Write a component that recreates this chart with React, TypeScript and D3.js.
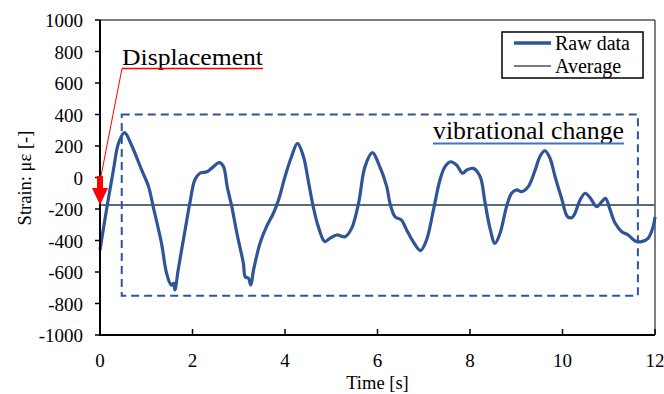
import React from "react";
import * as d3 from "d3";

const timeS = [0, 0.14, 0.29, 0.4, 0.53, 0.68, 0.9, 1.05, 1.15, 1.33, 1.44, 1.54, 1.59, 1.62, 1.69, 1.84, 1.95, 2.05, 2.16, 2.31, 2.41, 2.58, 2.67, 2.75, 2.85, 2.96, 3.1, 3.14, 3.21, 3.26, 3.32, 3.46, 3.6, 3.75, 3.86, 4.0, 4.14, 4.27, 4.4, 4.5, 4.61, 4.72, 4.86, 4.97, 5.12, 5.3, 5.44, 5.59, 5.73, 5.89, 6.02, 6.2, 6.27, 6.38, 6.52, 6.63, 6.77, 6.93, 7.06, 7.21, 7.35, 7.46, 7.58, 7.71, 7.84, 7.93, 8.07, 8.22, 8.32, 8.43, 8.54, 8.65, 8.79, 8.9, 9.01, 9.12, 9.26, 9.41, 9.51, 9.62, 9.73, 9.84, 9.98, 10.11, 10.2, 10.27, 10.38, 10.49, 10.59, 10.74, 10.85, 10.93, 11.03, 11.14, 11.28, 11.42, 11.57, 11.71, 11.85, 11.96, 12.0];
const strain = [-460, -206, 48, 217, 285, 206, 48, -58, -185, -418, -608, -683, -672, -714, -587, -333, -150, -16, 27, 37, 58, 94, 69, -58, -185, -354, -545, -630, -640, -683, -587, -418, -312, -227, -143, 5, 132, 217, 132, -16, -185, -312, -407, -386, -365, -376, -323, -164, 69, 158, 90, -58, -164, -249, -270, -333, -407, -464, -397, -206, -16, 69, 100, 79, 27, 48, 58, 5, -150, -320, -418, -354, -185, -100, -79, -90, -58, 48, 132, 170, 122, 5, -132, -249, -255, -227, -143, -100, -126, -185, -153, -132, -206, -291, -344, -365, -403, -407, -386, -312, -250];
const averageValue = -175;
const xTicks = [0, 2, 4, 6, 8, 10, 12];
const yTicks = [-1000, -800, -600, -400, -200, 0, 200, 400, 600, 800, 1000];
const boxT = [0.47, 11.63];
const boxV = [-750, 400];
const legendLabels = ["Raw data", "Average"];

const W = 664, H = 394;
const L = 100, R = 655, T = 20, B = 335;
const font = "Liberation Serif, Times New Roman, serif";

export default function App() {
  const x = d3.scaleLinear().domain([0, 12]).range([L, R]);
  const y = d3.scaleLinear().domain([-1000, 1000]).range([B, T]);
  const pts = timeS.map((t, i) => [t, strain[i]] as [number, number]);
  const line = d3
    .line<[number, number]>()
    .x((d) => x(d[0]))
    .y((d) => y(d[1]))
    .curve(d3.curveCatmullRom.alpha(0.5));
  const blue = "#2F5597";
  const avgColor = "#5A6B80";
  const tipX = x(0);
  const tipY = y(averageValue);
  const arrow = `M${tipX},${tipY} L${tipX - 8},${tipY - 17} L${tipX - 3},${tipY - 17} L${tipX - 3},${tipY - 29} L${tipX + 3},${tipY - 29} L${tipX + 3},${tipY - 17} L${tipX + 8},${tipY - 17} Z`;
  return (
    <svg width={W} height={H} style={{ position: "absolute", left: 0, top: 0, background: "#fff", fontFamily: font }}>
      <line x1={L} y1={T} x2={R} y2={T} stroke="#555" strokeWidth={1.5} />
      <line x1={R} y1={T} x2={R} y2={B} stroke="#555" strokeWidth={1.5} />
      <line x1={L} y1={y(averageValue)} x2={R} y2={y(averageValue)} stroke={avgColor} strokeWidth={2} />
      <rect x={x(boxT[0])} y={y(boxV[1])} width={x(boxT[1]) - x(boxT[0])} height={y(boxV[0]) - y(boxV[1])} fill="none" stroke={blue} strokeWidth={2} strokeDasharray="8,5" />
      <path d={line(pts) || ""} fill="none" stroke={blue} strokeWidth={3.2} strokeLinejoin="round" />
      <line x1={L} y1={T} x2={L} y2={B + 1} stroke="#000" strokeWidth={2} />
      <line x1={L - 1} y1={B} x2={R} y2={B} stroke="#000" strokeWidth={2} />
      {yTicks.map((v) => (
        <g key={v}>
          <line x1={L - 5} x2={L} y1={y(v)} y2={y(v)} stroke="#000" strokeWidth={1.5} />
          <text x={83} y={y(v) + 7} textAnchor="end" fontSize={19} fill="#000">{v}</text>
        </g>
      ))}
      {xTicks.map((t) => (
        <g key={t}>
          <line x1={x(t)} x2={x(t)} y1={B} y2={B - 6} stroke="#000" strokeWidth={1.5} />
          <text x={x(t)} y={367} textAnchor="middle" fontSize={19} fill="#000">{t}</text>
        </g>
      ))}
      <text x={(L + R) / 2} y={389} textAnchor="middle" fontSize={18.5} fill="#000">Time [s]</text>
      <text transform={`translate(31,178) rotate(-90)`} textAnchor="middle" fontSize={18.5} fill="#000">Strain: με [-]</text>
      <rect x={502} y={32} width={141} height={46} fill="#fff" stroke="#000" strokeWidth={1.5} />
      <line x1={514} x2={551} y1={43} y2={43} stroke={blue} strokeWidth={3.5} />
      <line x1={514} x2={551} y1={66} y2={66} stroke="#44546A" strokeWidth={1.5} />
      <text x={555} y={50} fontSize={20} fill="#000">{legendLabels[0]}</text>
      <text x={555} y={73} fontSize={20} fill="#000">{legendLabels[1]}</text>
      <text x={122} y={65} fontSize={24} fill="#000" textLength={141} lengthAdjust="spacingAndGlyphs">Displacement</text>
      <line x1={122} x2={263} y1={68.5} y2={68.5} stroke="#FF0000" strokeWidth={1.5} />
      <line x1={122} y1={68.5} x2={tipX + 1} y2={tipY - 29} stroke="#FF0000" strokeWidth={1} />
      <path d={arrow} fill="#FF0000" />
      <text x={433} y={139} fontSize={24.5} fill="#000" textLength={191} lengthAdjust="spacingAndGlyphs">vibrational change</text>
      <line x1={433} x2={624} y1={143.5} y2={143.5} stroke="#4472C4" strokeWidth={2} />
    </svg>
  );
}
